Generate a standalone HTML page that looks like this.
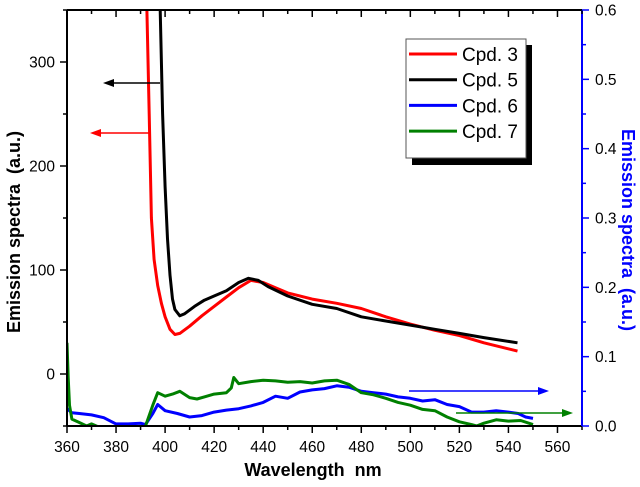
<!DOCTYPE html>
<html><head><meta charset="utf-8"><style>
html,body{margin:0;padding:0;background:#fff;}
svg{display:block;font-family:"Liberation Sans",Arial,sans-serif;}
text{white-space:pre;}
</style></head><body>
<svg id="chart" width="640" height="487" viewBox="0 0 640 487" xmlns="http://www.w3.org/2000/svg"></svg>
<script>
const xTicks=[360,380,400,420,440,460,480,500,520,540,560];
const yLeftTicks=[0,100,200,300];
const yRightTicks=["0.0","0.1","0.2","0.3","0.4","0.5","0.6"];
const seriesNames=["Cpd. 3","Cpd. 5","Cpd. 6","Cpd. 7"];
const cpd3X=[392.6,393.5,394.4,395.5,397,398.5,400,402,404,406,410,415,420,425,430,435,440,445,450,460,470,480,490,500,510,520,530,543.7];
const cpd3Y=[350,250,150,110,85,68,55,43,38,39,46,56,65,74,83,90,88,83,78,72,68,63,55,48,42,37,30,22];
const cpd5X=[398,399,400,401,402,403,404,406,408,412,416,420,425,430,434,438,442,450,460,470,480,490,500,510,520,530,543.7];
const cpd5Y=[350,250,180,130,95,72,62,56,58,65,71,75,80,88,92,90,84,75,67,63,55,51,47,43,39,35,30];
const cpd6X=[360,362,365,370,375,380,385,390,392,395,397,400,405,410,415,420,425,430,435,440,445,450,455,460,465,470,475,480,485,490,495,500,505,510,515,520,525,530,535,540,544,547,550];
const cpd6Y=[0.025,0.019,0.018,0.016,0.012,0.003,0.003,0.004,0.002,0.018,0.031,0.022,0.018,0.013,0.015,0.02,0.023,0.025,0.029,0.034,0.043,0.04,0.049,0.052,0.054,0.058,0.056,0.05,0.048,0.046,0.042,0.04,0.036,0.038,0.031,0.028,0.02,0.02,0.022,0.02,0.018,0.013,0.011];
const cpd7X=[360,360.5,361,362,365,368,370,372,376,380,385,390,392,395,397,400,403,406,410,413,416,420,425,427,428,430,435,440,445,450,455,460,465,470,475,480,485,490,495,500,505,510,515,520,525,527,530,535,540,545,550];
const cpd7Y=[0.12,0.07,0.03,0.01,0.005,0.0,0.003,0.0,-0.005,-0.005,-0.005,-0.004,0.0,0.03,0.048,0.043,0.046,0.05,0.041,0.039,0.042,0.046,0.048,0.055,0.07,0.061,0.064,0.066,0.065,0.063,0.064,0.062,0.065,0.066,0.06,0.048,0.045,0.04,0.034,0.03,0.024,0.022,0.013,0.006,0.002,0.0,0.004,0.009,0.007,0.008,0.002];
const colors=["#ff0000","#000000","#0000ff","#008000"];

const svg=document.getElementById('chart');
const NS="http://www.w3.org/2000/svg";
const L=67,R=582,T=10,B=426;
const xMin=360,xMax=570,yMin=-50,yMax=350,rMin=0,rMax=0.6;
function xs(v){return L+(v-xMin)/(xMax-xMin)*(R-L);}
function yl(v){return B-(v-yMin)/(yMax-yMin)*(B-T);}
function yr(v){return B-(v-rMin)/(rMax-rMin)*(B-T);}
function mk(tag,attrs,parent){const e=document.createElementNS(NS,tag);for(const k in attrs)e.setAttribute(k,attrs[k]);(parent||svg).appendChild(e);return e;}

const defs=mk('defs',{});
const cp=mk('clipPath',{id:'plotclip'},defs);
mk('rect',{x:L,y:T,width:R-L,height:B-T},cp);

const sdefs=[[cpd3X,cpd3Y,yl,'cpd3-line'],[cpd5X,cpd5Y,yl,'cpd5-line'],[cpd6X,cpd6Y,yr,'cpd6-line'],[cpd7X,cpd7Y,yr,'cpd7-line']];
sdefs.forEach((s,i)=>{
  let d='';
  s[0].forEach((x,j)=>{d+=(j?'L':'M')+xs(x).toFixed(1)+','+s[2](s[1][j]).toFixed(1);});
  const p=mk('path',{d:d,fill:'none',stroke:colors[i],'stroke-width':3,'stroke-linejoin':'round','clip-path':'url(#plotclip)'});
  
  
});

const axL=mk('line',{x1:L,y1:T,x2:L,y2:B,stroke:'#000','stroke-width':2});

const axT=mk('line',{x1:L,y1:T,x2:R,y2:T,stroke:'#000','stroke-width':2});

const axB=mk('line',{x1:L,y1:B,x2:R,y2:B,stroke:'#000','stroke-width':2});

const axR=mk('line',{x1:R,y1:T,x2:R,y2:B,stroke:'#0000ff','stroke-width':2});


for(let v=360;v<=570;v+=10){
  const major=(v%20===0);
  const x=xs(v);
  mk('line',{x1:x,y1:B,x2:x,y2:B+(major?7:4),stroke:'#000','stroke-width':1.5});
  mk('line',{x1:x,y1:T,x2:x,y2:T+(major?7:4),stroke:'#000','stroke-width':1.5});
}
xTicks.forEach(v=>{
  const t=mk('text',{x:xs(v),y:B+26,'text-anchor':'middle','font-size':15.5,fill:'#000'});
  t.textContent=v;
  
});
for(let v=-50;v<=350;v+=50){
  const major=(v%100===0);
  mk('line',{x1:L,y1:yl(v),x2:L-(major?7:4),y2:yl(v),stroke:'#000','stroke-width':1.5});
}
yLeftTicks.forEach(v=>{
  const t=mk('text',{x:L-12,y:yl(v)+5.5,'text-anchor':'end','font-size':15.5,fill:'#000'});
  t.textContent=v;
  
});
for(let k=0;k<=12;k++){
  const v=k*0.05;const major=(k%2===0);
  mk('line',{x1:R,y1:yr(v),x2:R+(major?7:4),y2:yr(v),stroke:'#0000ff','stroke-width':1.5});
}
yRightTicks.forEach(s=>{
  const t=mk('text',{x:R+13,y:yr(parseFloat(s))+5.5,'font-size':15.5,fill:'#000'});
  t.textContent=s;
  
});

const xt=mk('text',{x:313,y:476,'text-anchor':'middle','font-size':18,'font-weight':'bold',fill:'#000'});
xt.textContent='Wavelength  nm';
const ylt=mk('text',{x:0,y:0,'text-anchor':'middle','font-size':18,'font-weight':'bold',fill:'#000',transform:'translate(20,232) rotate(-90)'});
ylt.textContent='Emission spectra  (a.u.)';
const yrt=mk('text',{x:0,y:0,'text-anchor':'middle','font-size':18,'font-weight':'bold',fill:'#0000ff',transform:'translate(622,230) rotate(90)'});
yrt.textContent='Emission spectra  (a.u.)';

function arrow(x1,x2,y,c,name){
  const g=mk('g',{});
  
  const dir=x2<x1?-1:1;
  mk('line',{x1:x1,y1:y,x2:x2-dir*8,y2:y,stroke:c,'stroke-width':1.5},g);
  mk('polygon',{points:`${x2},${y} ${x2-dir*11},${y-4} ${x2-dir*11},${y+4}`,fill:c},g);
}
arrow(160,103,83,'#000','black-arrow-left');
arrow(151,90,133,'#ff0000','red-arrow-left');
arrow(409,549,391,'#0000ff','blue-arrow-right');
arrow(456,573,413,'#008000','green-arrow-right');

const lg=mk('g',{});

mk('rect',{x:412,y:45,width:120,height:120,fill:'#000'},lg);
mk('rect',{x:406,y:39,width:120,height:119,fill:'#fff',stroke:'#555','stroke-width':1},lg);
seriesNames.forEach((n,i)=>{
  const y=54+i*25.7;
  const e=mk('g',{},lg);
  
  mk('line',{x1:409,y1:y,x2:457,y2:y,stroke:colors[i],'stroke-width':3},e);
  const t=mk('text',{x:462,y:y+7,'font-size':19,fill:'#000'},e);
  t.textContent=n;
});
</script>
</body></html>
